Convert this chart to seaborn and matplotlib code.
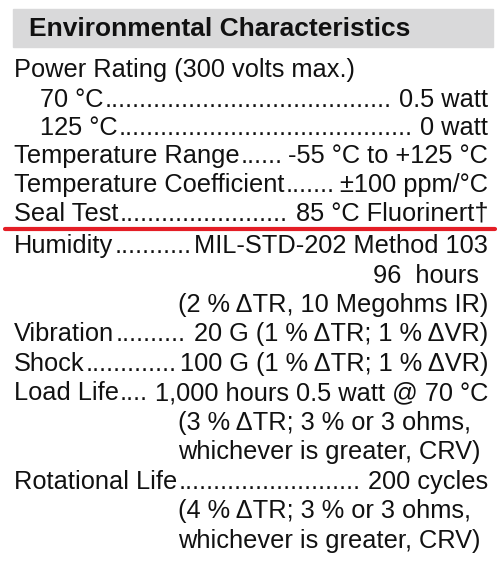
import matplotlib
matplotlib.use("Agg")
import matplotlib.pyplot as plt
import seaborn as sns

sns.set_theme(style="white")
plt.rcParams['font.family'] = ['Liberation Sans', 'DejaVu Sans']

title = "Environmental Characteristics"
labels = ["Power Rating (300 volts max.)", "70 °C", "125 °C", "Temperature Range",
          "Temperature Coefficient", "Seal Test", "Humidity", "", "", "Vibration",
          "Shock", "Load Life", "", "", "Rotational Life", "", ""]
values = [None, "0.5 watt", "0 watt", "-55 °C to +125 °C", "±100 ppm/°C",
          "85 °C Fluorinert†", "MIL-STD-202 Method 103", "96  hours",
          "(2 % ΔTR, 10 Megohms IR)", "20 G (1 % ΔTR; 1 % ΔVR)",
          "100 G (1 % ΔTR; 1 % ΔVR)", "1,000 hours 0.5 watt @ 70 °C",
          "(3 % ΔTR; 3 % or 3 ohms,", "whichever is greater, CRV)", "200 cycles",
          "(4 % ΔTR; 3 % or 3 ohms,", "whichever is greater, CRV)"]
indent = [14, 40, 40, 14, 14, 14, 14, 0, 0, 14, 14, 14, 0, 0, 14, 0, 0]
ypos = [70, 100, 128, 156, 185, 214, 246, 276, 305, 334, 364, 393, 423, 452, 482, 511, 541]
cont_x = {7: 373, 8: 178, 12: 178, 13: 178, 15: 178, 16: 178}

fig = plt.figure(figsize=(5, 5.64), dpi=100)
ax = fig.add_axes([0, 0, 1, 1])
ax.set_xlim(0, 500); ax.set_ylim(564, 0); ax.axis("off")
ax.add_patch(plt.Rectangle((13, 9), 480, 38, color="#d9d9da", zorder=0))
ax.text(29, 29, title, fontsize=19, fontweight="bold", va="center", color="#111")
ax.plot([5, 495], [229, 229], color="#e41e26", lw=3)

fs = 18.3
fig.canvas.draw()
r = fig.canvas.get_renderer()
inv = ax.transData.inverted()
def width(t):
    bb = t.get_window_extent(renderer=r)
    a = inv.transform((bb.x0, bb.y0)); b = inv.transform((bb.x1, bb.y1))
    return a[0], b[0]
dot = ax.text(100, 300, "..........", fontsize=fs)
d0, d1 = width(dot); dw = (d1 - d0) / 10
dot.remove()
RIGHT = 488
for i, (lab, val, x, y) in enumerate(zip(labels, values, indent, ypos)):
    if i in cont_x:
        ax.text(cont_x[i], y, val, fontsize=fs, va="center", color="#111")
        continue
    t = ax.text(x, y, lab, fontsize=fs, va="center", color="#111")
    if val is None:
        continue
    v = ax.text(RIGHT, y, val, fontsize=fs, va="center", ha="right", color="#111")
    _, le = width(t); vs, _ = width(v)
    n = int((vs - le - 3) / dw)
    ax.text(le + 1, y, "." * max(n, 0), fontsize=fs, va="center", color="#111")
fig.savefig("out.png", dpi=100)
